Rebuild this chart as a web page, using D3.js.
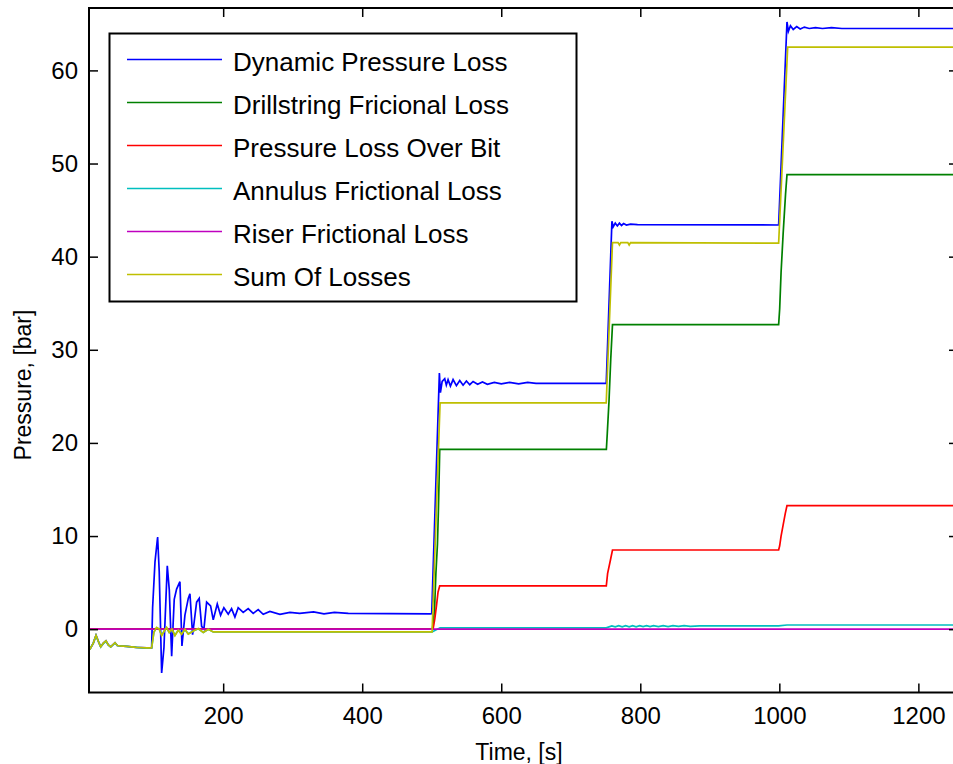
<!DOCTYPE html>
<html>
<head>
<meta charset="utf-8">
<script src="https://cdn.jsdelivr.net/npm/d3@7"></script>
<style>
  body { margin: 0; background: #fff; }
  text { font-family: "Liberation Sans", Arial, sans-serif; fill: #000; }
</style>
</head>
<body>
<div id="chart"></div>
<script>
// values: [time s, pressure bar]
const dynamicLoss = [
  [7,-2.2],[8.4,-2.15],[13.2,-1.5],[17.1,-0.65],[20.4,-1.3],[23.8,-1.9],[27.6,-1.5],[31.4,-1.25],
  [34.8,-1.7],[38.2,-1.9],[44.4,-1.45],[47.7,-1.75],[51.6,-1.8],[61.2,-1.85],[75,-1.95],[89.9,-2.0],
  [97.1,-2.0],[98.5,2.3],[101.9,7.2],[105.7,9.9],[108,6.2],[111.5,-4.7],[114.8,-2.0],[119.6,6.8],
  [122.5,4.2],[125.9,-2.9],[129.6,3.2],[133,4.3],[137.8,5.1],[140.7,-1.8],[145,1.5],[149.8,3.3],
  [152.2,3.8],[156,-0.6],[161.8,2.9],[165.5,3.3],[169,0.3],[172.3,0.0],[176.2,2.9],[181.9,2.5],
  [185.7,1.0],[191.5,2.7],[196.3,1.5],[201,2.3],[207.3,1.6],[212.1,2.2],[216.9,1.3],[221.6,2.3],
  [228.8,1.8],[236,2.2],[243.2,1.7],[250.4,2.1],[257.6,1.6],[267.2,1.9],[281.6,1.6],[296,1.8],
  [310,1.7],[330,1.85],[345,1.65],[360,1.8],[380,1.7],[499,1.65],[500,1.7],[511,27.5],[512.5,25.4],
  [515,26.6],[518.7,26.9],[521,26.2],[523.5,26.8],[526.9,26.1],[530.7,26.8],[535.5,26.15],[540.3,26.7],
  [545.1,26.2],[549.9,26.65],[554.7,26.25],[559.5,26.6],[566,26.3],[573,26.55],[580,26.3],[590,26.5],
  [600,26.35],[612,26.5],[625,26.35],[638,26.5],[650,26.4],[751,26.4],[759.2,43.8],[761,43.2],
  [764,43.6],[767,43.3],[770,43.6],[773,43.35],[776,43.55],[780,43.4],[786,43.5],[796,43.45],
  [999,43.4],[1011,65.2],[1013,64.2],[1016,64.8],[1020,64.4],[1025,64.7],[1030,64.45],[1036,64.65],
  [1043,64.5],[1052,64.6],[1062,64.5],[1075,64.6],[1090,64.5],[1270,64.5]
];

const drillstringLoss = [
  [7,0],[501,0],[504,2],[506,6],[508.2,9.1],[509.5,12.5],[510.6,16.1],[511.5,19.3],[751.2,19.3],
  [752.5,21],[755,24.5],[757.5,29],[760,32.7],[999,32.7],[1000.5,34.4],[1002.5,38.3],[1005.5,42.5],
  [1009,46.8],[1011,48.8],[1270,48.8]
];

const bitLoss = [
  [7,0],[501.9,0],[504.4,1.1],[506.8,2.5],[509.1,4.0],[511.5,4.65],[751.1,4.65],[753,6.0],[757,7.4],
  [760,8.5],[999,8.5],[1000.5,8.95],[1002.5,10.0],[1005.5,11.2],[1008.5,12.4],[1011,13.26],[1270,13.26]
];

const annulusLoss = [
  [7,-2.2],[8.4,-2.15],[13.2,-1.5],[17.1,-0.7],[20.4,-1.3],[23.8,-1.9],[27.6,-1.55],[31.4,-1.3],
  [34.8,-1.7],[38.2,-1.9],[44.4,-1.5],[47.7,-1.75],[51.6,-1.8],[61.2,-1.85],[75,-1.95],[89.9,-2.05],
  [97.1,-2.0],[100.4,-0.3],[104.2,0.15],[108.1,0.0],[111.5,-0.65],[115.3,-0.2],[118.7,0.15],[122.4,-0.35],
  [126.3,0.0],[130.6,-0.65],[135.4,-0.1],[140.2,-0.5],[145,-0.05],[149.8,-0.5],[157,-0.2],[164.2,0.05],
  [171.4,-0.35],[178.6,0.0],[185.7,-0.3],[500.5,-0.3],[512,0.15],[751,0.15],[759,0.35],[764,0.25],
  [769,0.38],[774,0.25],[779,0.38],[784,0.25],[789,0.38],[794,0.25],[799,0.38],[804,0.27],[809,0.38],
  [814,0.27],[819,0.38],[826,0.28],[833,0.38],[840,0.28],[847,0.38],[855,0.3],[863,0.37],[872,0.3],
  [885,0.35],[999,0.35],[1011,0.45],[1270,0.45]
];

const riserLoss = [[7,0],[1270,0]];

const sumLosses = [
  [7,-2.2],[8.4,-2.15],[13.2,-1.5],[17.1,-0.65],[20.4,-1.3],[23.8,-1.9],[27.6,-1.5],[31.4,-1.25],
  [34.8,-1.7],[38.2,-1.9],[44.4,-1.45],[47.7,-1.75],[51.6,-1.8],[61.2,-1.85],[75,-1.95],[89.9,-2.0],
  [97.1,-2.0],[100.4,-0.3],[104.2,0.18],[108.1,0.0],[111.5,-0.7],[115.3,-0.2],[118.7,0.18],[122.4,-0.36],
  [126.3,0.0],[130.6,-0.7],[135.4,-0.1],[140.2,-0.54],[145,0.0],[149.8,-0.54],[157,-0.2],[164.2,0.07],
  [171.4,-0.36],[178.6,0.0],[185.7,-0.29],[300,-0.3],[500.5,-0.3],[512,24.3],[751,24.3],[760,41.5],
  [768,41.5],[770,41.25],[772,41.5],[782,41.5],[784,41.25],[786,41.5],[999,41.45],[1012,62.5],[1270,62.5]
];

const seriesNames = ["Dynamic Pressure Loss", "Drillstring Fricional Loss", "Pressure Loss Over Bit",
  "Annulus Frictional Loss", "Riser Frictional Loss", "Sum Of Losses"];
const seriesColors = ["#0000ff", "#008000", "#ff0000", "#00bfbf", "#bf00bf", "#bfbf00"];
const xTicks = [200, 400, 600, 800, 1000, 1200];
const yTicks = [0, 10, 20, 30, 40, 50, 60];

const series = [dynamicLoss, drillstringLoss, bitLoss, annulusLoss, riserLoss, sumLosses];

const width = 953, height = 764;
const plotLeft = 89, plotRight = 958, plotTop = 8, plotBottom = 692.5;

const svg = d3.select("#chart").append("svg")
    .attr("width", width)
    .attr("height", height);

const x = d3.scaleLinear().domain([7, 1257]).range([plotLeft, plotRight]);
const y = d3.scaleLinear().domain([-6.8, 66.7]).range([plotBottom, plotTop]);

svg.append("defs").append("clipPath").attr("id", "plotclip")
  .append("rect")
    .attr("x", plotLeft).attr("y", plotTop)
    .attr("width", plotRight - plotLeft).attr("height", plotBottom - plotTop);

// lines
const line = d3.line().x(d => x(d[0])).y(d => y(d[1]));
svg.append("g").attr("clip-path", "url(#plotclip)")
  .selectAll("path")
  .data(series)
  .join("path")
    .attr("d", line)
    .attr("fill", "none")
    .attr("stroke", (d, i) => seriesColors[i])
    .attr("stroke-width", 1.7);

// axes, ticks pointing inward like matlab
const fontSize = 24;
const xAxis = svg.append("g")
    .attr("transform", `translate(0,${plotBottom})`)
    .call(d3.axisBottom(x).tickValues(xTicks).tickSize(-9).tickPadding(14).tickFormat(d3.format("d")));
xAxis.select(".domain").remove();
xAxis.selectAll("text").attr("font-size", fontSize).attr("font-family", null);

const yAxis = svg.append("g")
    .attr("transform", `translate(${plotLeft},0)`)
    .call(d3.axisLeft(y).tickValues(yTicks).tickSize(-9).tickPadding(11));
yAxis.select(".domain").remove();
yAxis.selectAll("text").attr("font-size", fontSize).attr("font-family", null);

const xTop = svg.append("g")
    .attr("transform", `translate(0,${plotTop})`)
    .call(d3.axisTop(x).tickValues(xTicks).tickSize(-9).tickFormat(""));
xTop.select(".domain").remove();

const yRight = svg.append("g")
    .attr("transform", `translate(${plotRight},0)`)
    .call(d3.axisRight(y).tickValues(yTicks).tickSize(-9).tickFormat(""));
yRight.select(".domain").remove();

svg.selectAll(".tick line").attr("stroke", "#000").attr("stroke-width", 1.5);

// box
svg.append("rect")
    .attr("x", plotLeft).attr("y", plotTop)
    .attr("width", plotRight - plotLeft).attr("height", plotBottom - plotTop)
    .attr("fill", "none")
    .attr("stroke", "#000")
    .attr("stroke-width", 2);

// axis titles
svg.append("text")
    .attr("x", 519).attr("y", 760)
    .attr("text-anchor", "middle")
    .attr("font-size", 23)
    .text("Time, [s]");

svg.append("text")
    .attr("transform", "translate(31,385) rotate(-90)")
    .attr("text-anchor", "middle")
    .attr("font-size", 23)
    .text("Pressure, [bar]");

// legend
const legend = svg.append("g");
legend.append("rect")
    .attr("x", 109.5).attr("y", 33.5)
    .attr("width", 467).attr("height", 268)
    .attr("fill", "#fff")
    .attr("stroke", "#000")
    .attr("stroke-width", 2);

const rows = legend.selectAll("g.row")
  .data(seriesNames)
  .join("g")
    .attr("class", "row")
    .attr("transform", (d, i) => `translate(0,${59.5 + i * 43})`);

rows.append("line")
    .attr("x1", 127).attr("x2", 222)
    .attr("y1", 0).attr("y2", 0)
    .attr("stroke", (d, i) => seriesColors[i])
    .attr("stroke-width", 1.7);

rows.append("text")
    .attr("x", 233).attr("y", 11)
    .attr("font-size", 26)
    .text(d => d);
</script>
</body>
</html>
